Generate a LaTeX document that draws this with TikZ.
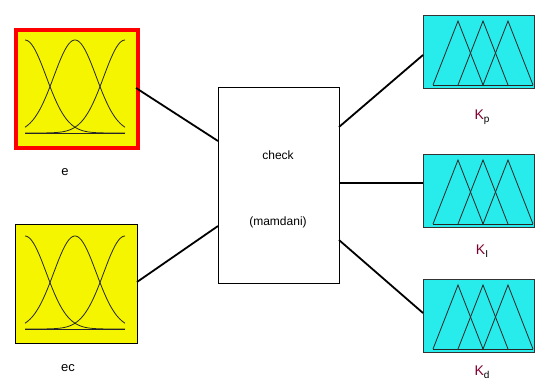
\documentclass[tikz,border=0pt]{standalone}
\usepackage{fontspec}
\setmainfont{Liberation Sans}
\definecolor{kred}{RGB}{128,0,48}
\definecolor{myyellow}{RGB}{245,245,0}
\definecolor{mycyan}{RGB}{40,235,235}
\begin{document}
\begin{tikzpicture}[x=1pt,y=-1pt,
  inbox/.style={draw=black,line width=1.2pt,fill=myyellow,minimum width=122pt,minimum height=119pt,inner sep=0pt,anchor=north west},
  outbox/.style={draw=black!80,line width=1.2pt,fill=mycyan,minimum width=111pt,minimum height=73pt,inner sep=0pt,anchor=north west},
  wire/.style={line width=1.8pt},
  mf/.style={line width=0.8pt,black!85},
  lbl/.style={font=\fontsize{13}{15}\selectfont}]
\useasboundingbox (0,0) rectangle (535,380);
% input boxes
\node[inbox,draw=red,line width=3.5pt,minimum width=122pt,minimum height=118pt] (e) at (14,28) {};
\node[inbox] (ec) at (15,224) {};
\node[lbl] (el) at (65,172) {e};
\node[lbl] (ecl) at (68,368) {ec};
% gaussians
\foreach \yo in {0,196}{
  \begin{scope}[yshift=-\yo pt]
  \draw[mf] (25,133) -- (125,133);
  \draw[mf] plot[domain=25:125,samples=60] (\x,{133-93*exp(-((\x-25)*(\x-25))/900)});
  \draw[mf] plot[domain=25:125,samples=60] (\x,{133-93*exp(-((\x-75)*(\x-75))/900)});
  \draw[mf] plot[domain=25:125,samples=60] (\x,{133-93*exp(-((\x-125)*(\x-125))/900)});
  \end{scope}
}
% center
\node[draw=black,line width=1.4pt,fill=white,minimum width=121pt,minimum height=196pt,inner sep=0pt,anchor=north west] (c) at (218,87) {};
\node[font=\fontsize{12}{14}\selectfont] (t1) at (278,155) {check};
\node[font=\fontsize{12}{14}\selectfont] (t2) at (278,222) {(mamdani)};
% output boxes
\node[outbox] (kp) at (423,15) {};
\node[outbox] (ki) at (423,154) {};
\node[outbox] (kd) at (423,279) {};
\foreach \yo in {0,139,264}{
  \begin{scope}[yshift=-\yo pt]
  \draw[mf] (433,85) -- (533,85);
  \draw[mf] (433,85) -- (458,21) -- (483,85);
  \draw[mf] (458,85) -- (483,21) -- (508,85);
  \draw[mf] (483,85) -- (508,21) -- (533,85);
  \end{scope}
}
\node[font=\fontsize{14}{16}\selectfont] (kpl) at (482,117) {\textcolor{kred}{K}\raisebox{-0.35ex}{\fontsize{10}{11}\selectfont p}};
\node[font=\fontsize{14}{16}\selectfont] (kil) at (482,251) {\textcolor{kred}{K}\raisebox{-0.35ex}{\fontsize{10}{11}\selectfont I}};
\node[font=\fontsize{14}{16}\selectfont] (kdl) at (482,372) {\textcolor{kred}{K}\raisebox{-0.35ex}{\fontsize{10}{11}\selectfont d}};
% wires
\coordinate (a1) at (136,88);
\coordinate (a2) at (218,141);
\draw[wire] (a1) -- (a2);
\coordinate (b1) at (137,282);
\coordinate (b2) at (218,226);
\draw[wire] (b1) -- (b2);
\coordinate (c1) at (339,127);
\coordinate (c2) at (423,55);
\draw[wire] (c1) -- (c2);
\coordinate (d1) at (339,183);
\coordinate (d2) at (423,183);
\draw[wire] (d1) -- (d2);
\coordinate (f1) at (339,240);
\coordinate (f2) at (423,313);
\draw[wire] (f1) -- (f2);
\end{tikzpicture}
\end{document}
